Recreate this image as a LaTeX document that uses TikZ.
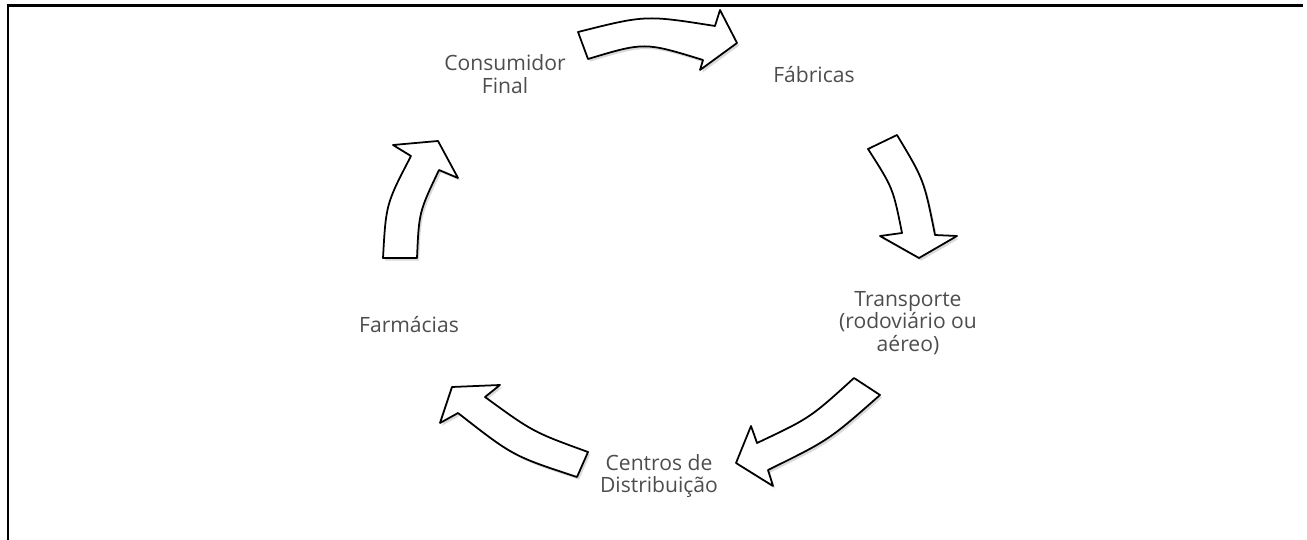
\documentclass[tikz,border=0pt]{standalone}
\usepackage{fontspec}
\setmainfont{Open Sans}
\usetikzlibrary{shadows}
\definecolor{txtgray}{HTML}{4D4D4D}
\tikzset{
  blockarrow/.style={draw=black, fill=white, line width=1pt, line join=round,
    drop shadow={opacity=0.25, shadow xshift=1.2pt, shadow yshift=-1.5pt, fill=black!60}},
  label/.style={text=txtgray, align=center, font=\fontsize{12}{12.8}\selectfont, inner sep=0pt},
  frameline/.style={draw=black, line width=1.4pt}
}
\begin{document}
\begin{tikzpicture}[x=0.02cm, y=-0.02cm]
\useasboundingbox (0,0) rectangle (1307,540);
% frame
\coordinate (fTR) at (1303,5.5);
\coordinate (fTL) at (8,5.5);
\coordinate (fBL) at (8,545);
\draw[frameline] (fTR) -- (fTL) -- (fBL);

% labels
\node[label] (cons) at (505,74) {Consumidor\\Final};
\node[label] (fab) at (814,75) {Fábricas};
\node[label] (trans) at (908,323) {Transporte\\(rodoviário ou\\aéreo)};
\node[label] (cent) at (659,476) {Centros de\\Distribuição};
\node[label] (farm) at (409,325) {Farmácias};

% top arrow (Consumidor Final -> Fábricas)
\draw[blockarrow] (578,32) -- (588,59)
  .. controls (644.5,42) .. (703,60) -- (700,70) -- (737,43) -- (720,10) -- (715,26)
  .. controls (645.5,15) .. (578,32) -- cycle;

% right arrow (Fábricas -> Transporte)
\draw[blockarrow] (868,149) -- (897,135)
  .. controls (924,180) .. (935,235) -- (957,236) -- (919,258) -- (880,236) -- (902,233)
  .. controls (893,188) .. (868,149) -- cycle;

% bottom-right arrow (Transporte -> Centros)
\draw[blockarrow] (854,378) -- (880,395)
  .. controls (829,440) .. (768,470) -- (773,486) -- (736,463) -- (751,426) -- (757,443)
  .. controls (810,418) .. (854,378) -- cycle;

% bottom-left arrow (Centros -> Farmácias)
\draw[blockarrow] (588,452) -- (577,477)
  .. controls (513,456) .. (458,413) -- (440,423) -- (452,387) -- (500,385) -- (485,397)
  .. controls (533,432) .. (588,452) -- cycle;

% left arrow (Farmácias -> Consumidor Final)
\draw[blockarrow] (383,258) -- (417,258)
  .. controls (419,212) .. (439,170) -- (458,178) -- (438,141) -- (393,145) -- (411,156)
  .. controls (386,204) .. (383,258) -- cycle;
\end{tikzpicture}
\end{document}
